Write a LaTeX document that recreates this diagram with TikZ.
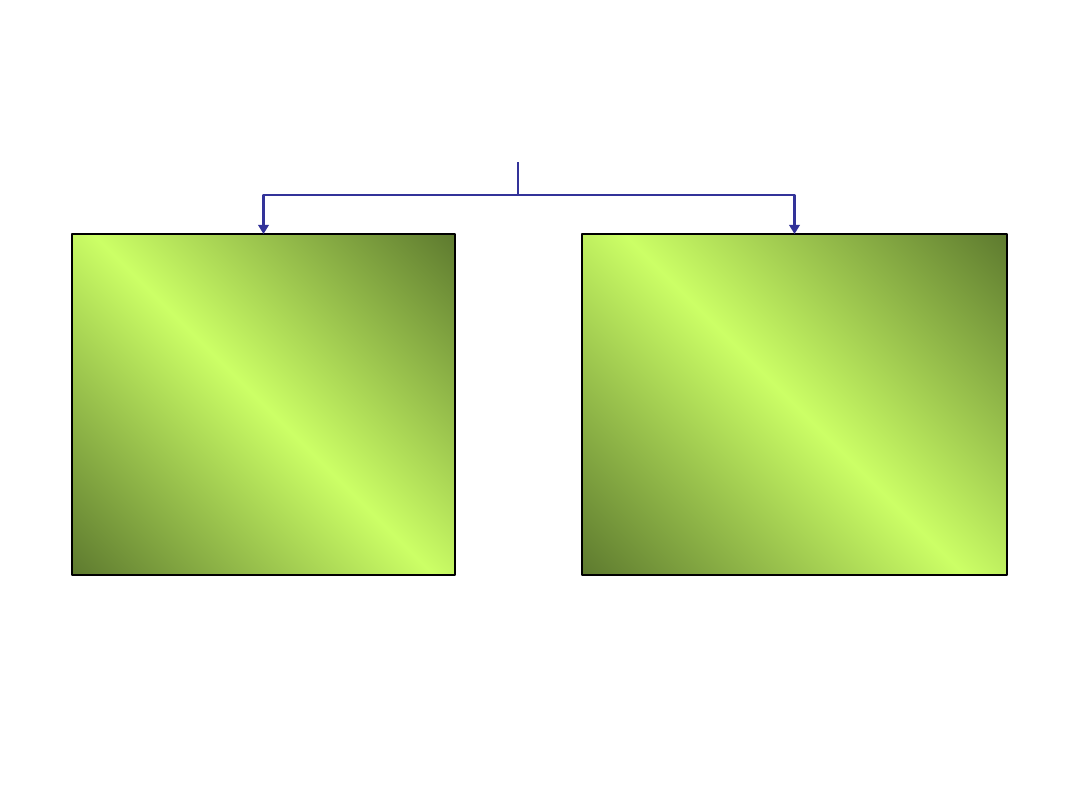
\documentclass[tikz,border=0pt]{standalone}
\usetikzlibrary{arrows.meta,positioning}
\definecolor{leafbright}{RGB}{204,255,102}
\definecolor{leafdark}{RGB}{92,120,46}
\definecolor{linkblue}{RGB}{51,51,153}
\pgfdeclareverticalshading{leafshade}{100bp}{color(0bp)=(leafdark); color(14bp)=(leafdark); color(50bp)=(leafbright); color(86bp)=(leafdark); color(100bp)=(leafdark)}
\begin{document}
\begin{tikzpicture}[line join=round,
    leafbox/.style={draw=black,line width=0.6pt,inner sep=0pt,outer sep=0pt,
      minimum height=3.41cm,shading=leafshade,shading angle=-45},
    link/.style={draw=linkblue,line width=0.6pt,-{Triangle[width=3pt,length=2.6pt]}}]
    \useasboundingbox(0,0)rectangle(10.8,8.1);
    % the two boxes
    \node[leafbox,minimum width=3.83cm](lbox)at(2.635,4.055){};
    \node[leafbox,minimum width=4.25cm](rbox)at(7.945,4.055){};
    % the fork above them
    \coordinate(stem)at(5.18,6.48);
    \coordinate(fork)at(5.18,6.15);
    \draw[linkblue,line width=0.3pt](stem)--(fork);
    \foreach \b in {lbox,rbox}{%
      \draw[link](fork)-|(\b.north);
    }
  \end{tikzpicture}
\end{document}
